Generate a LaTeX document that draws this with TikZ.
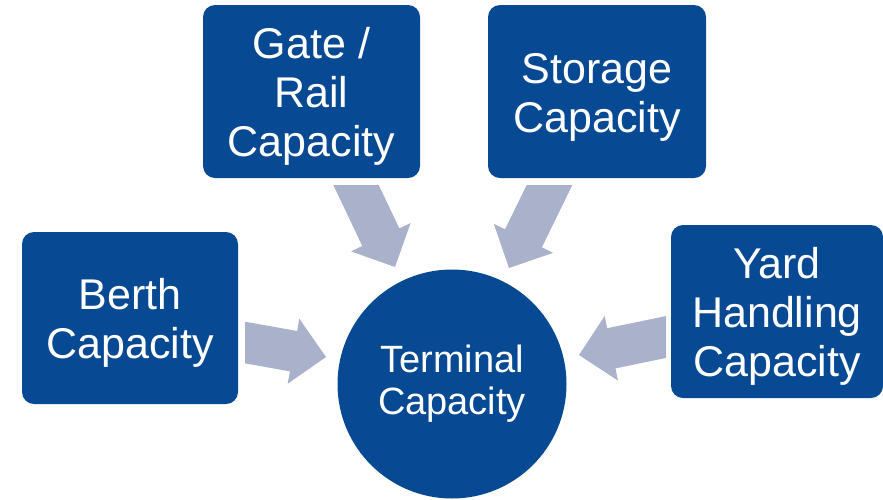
\documentclass[tikz,border=0pt]{standalone}
\usepackage{fontspec}
\setmainfont{Liberation Sans}
\usetikzlibrary{calc}
\definecolor{boxblue}{RGB}{8,73,148}
\definecolor{arrowgray}{RGB}{170,177,202}
\newcommand{\liftline}{\rule{0pt}{41pt}}
\tikzset{
  capbox/.style={fill=boxblue, rounded corners=12pt, inner sep=0pt, text=white,
    align=center, font=\fontsize{43}{49}\selectfont},
  hub/.style={circle, fill=boxblue, inner sep=0pt, minimum size=229pt, text=white,
    align=center, font=\fontsize{38}{42}\selectfont},
  blockarr/.style={fill=arrowgray, draw=none}
}
% #1 tail centre, #2 tip (tail is extended and clipped by the caller)
\newcommand{\blockarrow}[2]{%
  \fill[blockarr]
    ($($(#1)!-15pt!(#2)$)!20.5pt!90:(#2)$) --
    ($($(#2)!33pt!(#1)$)!20.5pt!-90:(#1)$) --
    ($($(#2)!33pt!(#1)$)!33pt!-90:(#1)$) --
    (#2) --
    ($($(#2)!33pt!(#1)$)!33pt!90:(#1)$) --
    ($($(#2)!33pt!(#1)$)!20.5pt!90:(#1)$) --
    ($($(#1)!-15pt!(#2)$)!20.5pt!-90:(#2)$) -- cycle;
}
\begin{document}
\begin{tikzpicture}[x=1pt,y=-1pt]
\useasboundingbox (0,0) rectangle (883,499);
\node[capbox, minimum width=216pt, minimum height=172pt] (berth) at (130,318) {\liftline Berth\\Capacity};
\node[capbox, minimum width=217pt, minimum height=173pt] (gate) at (311.5,91.5) {\liftline Gate /\\Rail\\Capacity};
\node[capbox, minimum width=218pt, minimum height=173pt] (storage) at (597,91.5) {\liftline Storage\\Capacity};
\node[capbox, minimum width=212pt, minimum height=173pt] (yard) at (777,311.5) {\liftline Yard\\Handling\\Capacity};
\node[hub] (term) at (452,384) {Terminal\\Capacity};
% arrow tails and tips
\coordinate (bT) at (245,342.5);
\coordinate (bP) at (326,357);
\coordinate (gT) at (356,185);
\coordinate (gP) at (395,267);
\coordinate (sT) at (549.5,185);
\coordinate (sP) at (509,268);
\coordinate (yT) at (666,337);
\coordinate (yP) at (579,355);
\begin{scope}
  \clip (245,280) rectangle (360,420);
  \blockarrow{bT}{bP}
\end{scope}
\begin{scope}
  \clip (300,185) rectangle (440,290);
  \blockarrow{gT}{gP}
\end{scope}
\begin{scope}
  \clip (470,185) rectangle (610,290);
  \blockarrow{sT}{sP}
\end{scope}
\begin{scope}
  \clip (560,280) rectangle (666,420);
  \blockarrow{yT}{yP}
\end{scope}
\end{tikzpicture}
\end{document}
